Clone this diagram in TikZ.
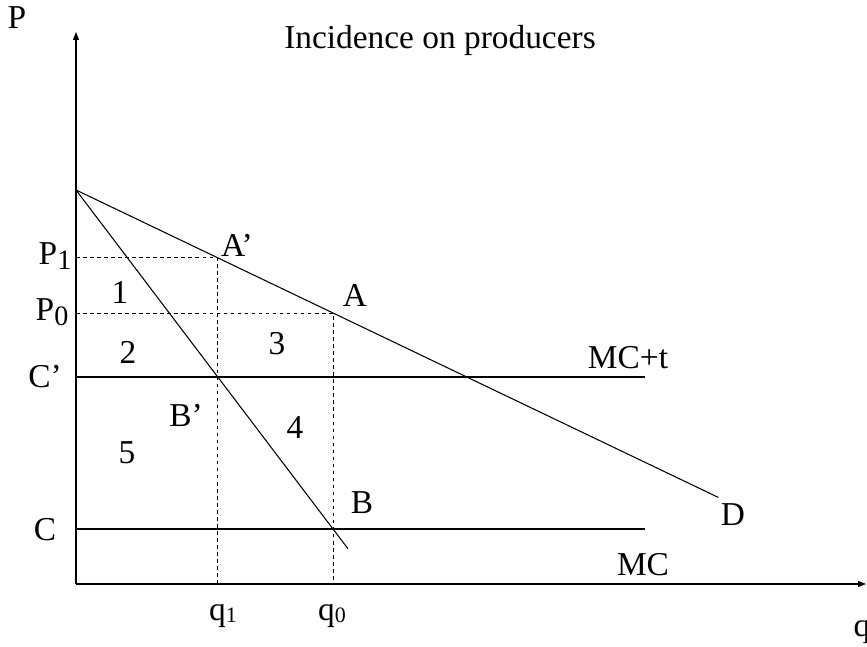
\documentclass[tikz,border=0pt]{standalone}
\usepackage{fontspec}
\setmainfont{Liberation Serif}
\usetikzlibrary{arrows.meta,calc}

\newcommand{\psub}[1]{\raisebox{-0.35ex}{\fontsize{16}{16}\selectfont #1}}
\newcommand{\qsub}[1]{\raisebox{-0.15ex}{\fontsize{12.5}{12.5}\selectfont #1}}

\begin{document}
\begin{tikzpicture}[>={Triangle[length=1.6mm,width=1.2mm]},
  line width=0.6pt,
  every node/.style={font=\fontsize{19}{22}\selectfont},
  guide/.style={dash pattern=on 2pt off 2pt,line width=0.5pt}]
  \useasboundingbox (-1.52,-1.26) rectangle (15.82,11.68);
  % axes
  \coordinate (O) at (0,0);
  \draw[->] (O)--(15.8,0) node (q) at (15.72,-0.96) {q};
  \draw[->] (O)--(0,11.04);
  \node (P) at (-1.18,11.32) {P};
  \node (title) at (7.28,10.88) {Incidence on producers};
  % key points
  \coordinate (top) at (0,7.88);
  \coordinate (Ap) at (2.82,6.53);
  \coordinate (A) at (5.14,5.42);
  \coordinate (Bp) at (2.82,4.14);
  \coordinate (B) at (5.14,1.1);
  % demand and marginal revenue
  \draw (top)--($(top)!2.5!(A)$) coordinate (Dend);
  \draw (top)--($(top)!1.058!(B)$) coordinate (MRend);
  % cost lines
  \draw (0,4.14) coordinate (Cpax)--(11.38,4.14) coordinate (MCtend);
  \draw (0,1.1) coordinate (Cax)--(11.38,1.1) coordinate (MCend);
  % dashed guides
  \draw[guide] (0,6.53) coordinate (P1ax)--(Ap)--(2.82,0) coordinate (q1ax);
  \draw[guide] (0,5.42) coordinate (P0ax)--(A)--(5.14,0) coordinate (q0ax);
  % labels
  \node (lP1) at (-0.42,6.56) {P\psub{1}};
  \node (lP0) at (-0.48,5.44) {P\psub{0}};
  \node (lCp) at (-0.62,4.14) {C’};
  \node (lC) at (-0.62,1.08) {C};
  \node (lq1) at (2.94,-0.64) {q\qsub{1}};
  \node (lq0) at (5.12,-0.64) {q\qsub{0}};
  \node (lAp) at (3.22,6.78) {A’};
  \node (lA) at (5.58,5.78) {A};
  \node (lBp) at (2.2,3.38) {B’};
  \node (lB) at (5.72,1.62) {B};
  \node (n1) at (0.88,5.84) {1};
  \node (n2) at (1.04,4.64) {2};
  \node (n3) at (4.02,4.80) {3};
  \node (n4) at (4.38,3.12) {4};
  \node (n5) at (1.02,2.62) {5};
  \node (lMCt) at (11.04,4.52) {MC+t};
  \node (lMC) at (11.34,0.38) {MC};
  \node (lD) at (13.14,1.38) {D};
\end{tikzpicture}
\end{document}
